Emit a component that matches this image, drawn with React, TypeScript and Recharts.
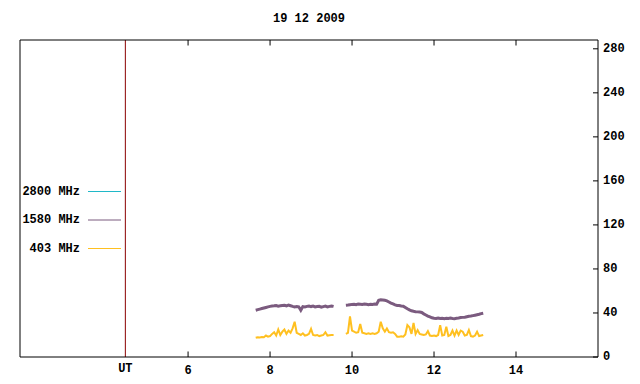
import { LineChart, Line, XAxis, YAxis, ReferenceLine } from "recharts";

const title = "19 12 2009";

// first observing block (UT hours)
const seg1Hours = [
  7.65, 7.7, 7.75, 7.8, 7.85, 7.9, 7.95, 8.0, 8.05, 8.1,
  8.15, 8.2, 8.25, 8.3, 8.35, 8.4, 8.45, 8.5, 8.55, 8.6,
  8.65, 8.7, 8.75, 8.8, 8.85, 8.9, 8.95, 9.0, 9.05, 9.1,
  9.15, 9.2, 9.25, 9.3, 9.35, 9.4, 9.45, 9.5, 9.55,
];
const seg1Mhz1580 = [
  42.5, 43, 43.5, 44, 44.5, 45, 45.5, 46, 46.3, 46.5,
  46.8, 46.2, 46.5, 46.8, 47, 46.5, 47.2, 46.6, 46, 45.5,
  45.8, 45.6, 42.5, 45.8, 45.5, 46, 46.3, 45.8, 46.2, 45.5,
  45.8, 46, 45.2, 45.8, 46.2, 45.5, 46, 46.4, 46,
];
const seg1Mhz403 = [
  17.5, 18, 17.8, 18.2, 18, 19.5, 18.5, 19, 21, 22.5,
  19.5, 25, 20, 23, 25, 21, 24, 22, 26, 32,
  22, 21, 20, 21.5, 19.5, 20, 21, 25.5, 20, 19.5,
  20, 19, 19.5, 20, 22.5, 19.5, 19.8, 20, 20,
];

// second observing block
const seg2Hours = [
  9.85, 9.9, 9.95, 10.0, 10.05, 10.1, 10.15, 10.2, 10.25, 10.3,
  10.35, 10.4, 10.45, 10.5, 10.55, 10.6, 10.65, 10.7, 10.75, 10.8,
  10.85, 10.9, 10.95, 11.0, 11.05, 11.1, 11.15, 11.2, 11.25, 11.3,
  11.35, 11.4, 11.45, 11.5, 11.55, 11.6, 11.65, 11.7, 11.75, 11.8,
  11.85, 11.9, 11.95, 12.0, 12.05, 12.1, 12.15, 12.2, 12.25, 12.3,
  12.35, 12.4, 12.45, 12.5, 12.55, 12.6, 12.65, 12.7, 12.75, 12.8,
  12.85, 12.9, 12.95, 13.0, 13.05, 13.1, 13.15, 13.2,
];
const seg2Mhz1580 = [
  47, 47.2, 47.5, 47.8, 48, 47.6, 48.2, 48, 47.8, 48.2,
  48, 47.6, 48, 47.8, 48.2, 48, 51.5, 52, 51.8, 51.5,
  51, 50, 49, 48.2, 47.4, 46.8, 46.8, 46.4, 46.2, 45,
  43.8, 42.8, 42, 41.5, 41.2, 41, 40.8, 40.4, 39.2, 38.2,
  37.2, 36.4, 35.6, 35.2, 35, 35.4, 35, 35.2, 34.8, 35.2,
  35, 35.4, 35, 34.8, 35.2, 35.4, 35.8, 36, 36.2, 36.6,
  37, 37.2, 37.6, 38, 38.4, 38.8, 39.4, 39.8,
];
const seg2Mhz403 = [
  21, 22, 37, 24, 23, 22, 22.5, 30, 22, 21.5,
  21, 21.5, 21, 21.5, 21, 21.5, 23, 32, 26, 23,
  26, 22.5, 22, 22.5, 21, 18.5, 18.5, 18.8, 18.5, 20.5,
  29, 27, 21, 31, 21, 24.5, 21, 20.5, 20, 20.5,
  23.5, 19.5, 19, 19.5, 19, 20, 29, 19.5, 20, 27.5,
  19, 20, 24, 19.5, 24, 20, 24, 23, 19.5, 20,
  24.5, 19, 18.5, 19.5, 23, 19, 19.5, 20,
];

const gapHour = 9.7;
const utHour = 4.47;
const xTicks = [6, 8, 10, 12, 14];
const yTicks = [0, 40, 80, 120, 160, 200, 240, 280];
const yMax = 288;
const tickLen = 5; // inward x-tick length in y units

const series = [
  { key: "mhz2800", name: "2800 MHz", color: "#20b8c8", width: 1 },
  { key: "mhz1580", name: "1580 MHz", color: "#7b5b7f", width: 3 },
  { key: "mhz403", name: "403 MHz", color: "#ffc020", width: 2 },
];

const data = [
  ...seg1Hours.map((h, i) => ({ hour: h, mhz1580: seg1Mhz1580[i], mhz403: seg1Mhz403[i] })),
  { hour: gapHour, mhz1580: null, mhz403: null },
  ...seg2Hours.map((h, i) => ({ hour: h, mhz1580: seg2Mhz1580[i], mhz403: seg2Mhz403[i] })),
];

const font = "'Liberation Mono', 'DejaVu Sans Mono', monospace";

const BottomTick = (props: any) => {
  const { x, y, payload } = props;
  const isUt = payload.value === utHour;
  return (
    <text x={x} y={y + (isUt ? 12 : 14)} textAnchor="middle" dominantBaseline="central"
      fontFamily={font} fontSize={12} fontWeight="bold" fill="#000">
      {isUt ? "UT" : payload.value}
    </text>
  );
};

const RightTick = (props: any) => {
  const { x, y, payload } = props;
  return (
    <g>
      <line x1={x} y1={y} x2={x - 5} y2={y} stroke="#000" />
      <text x={x + 5} y={y} textAnchor="start" dominantBaseline="central"
        fontFamily={font} fontSize={12} fontWeight="bold" fill="#000">{payload.value}</text>
    </g>
  );
};

export default function App() {
  return (
    <div style={{ position: "absolute", left: 0, top: 0, width: 640, height: 384, background: "#fff" }}>
      <LineChart width={640} height={384} data={data}
        margin={{ top: 39, right: 0, bottom: 0, left: 19 }}>
        <XAxis xAxisId="b" dataKey="hour" type="number" domain={[1.9, 16]} allowDataOverflow
          ticks={[utHour, ...xTicks]} interval={0} height={27} tickSize={0} tickMargin={0}
          tickLine={false} axisLine={{ stroke: "#000" }} tick={<BottomTick />} />
        <XAxis xAxisId="t" orientation="top" dataKey="hour" type="number" domain={[1.9, 16]}
          allowDataOverflow height={1} tick={false} tickLine={false} axisLine={{ stroke: "#000" }} />
        <YAxis yAxisId="r" orientation="right" type="number" domain={[0, yMax]} allowDataOverflow
          ticks={yTicks} interval={0} width={42} tickSize={0} tickMargin={0}
          tickLine={false} axisLine={{ stroke: "#000" }} tick={<RightTick />} />
        <YAxis yAxisId="l" orientation="left" type="number" domain={[0, yMax]} width={1}
          tick={false} tickLine={false} axisLine={{ stroke: "#000" }} />
        {xTicks.map((t) => (
          <ReferenceLine key={`b${t}`} xAxisId="b" yAxisId="r" stroke="#000" ifOverflow="visible"
            segment={[{ x: t, y: 0 }, { x: t, y: tickLen }]} />
        ))}
        {xTicks.map((t) => (
          <ReferenceLine key={`t${t}`} xAxisId="b" yAxisId="r" stroke="#000" ifOverflow="visible"
            segment={[{ x: t, y: yMax }, { x: t, y: yMax - tickLen }]} />
        ))}
        <ReferenceLine xAxisId="b" yAxisId="r" x={utHour} stroke="#8b0000" strokeWidth={1} />
        {series.slice(1).map((s) => (
          <Line key={s.key} xAxisId="b" yAxisId="r" type="linear" dataKey={s.key} name={s.name}
            stroke={s.color} strokeWidth={s.width} dot={false} connectNulls={false}
            isAnimationActive={false} />
        ))}
      </LineChart>
      <svg width={640} height={384} style={{ position: "absolute", left: 0, top: 0, pointerEvents: "none" }}>
        <text x={309} y={19} textAnchor="middle" dominantBaseline="central"
          fontFamily={font} fontSize={12} fontWeight="bold" fill="#000">{title}</text>
        {series.map((s, i) => (
          <g key={s.key}>
            <text x={80} y={191.5 + i * 28.5} textAnchor="end" dominantBaseline="central"
              fontFamily={font} fontSize={12} fontWeight="bold" fill="#000">{s.name}</text>
            <line x1={88} x2={121} y1={191.5 + i * 28.5} y2={191.5 + i * 28.5}
              stroke={s.color} strokeWidth={1} />
          </g>
        ))}
      </svg>
    </div>
  );
}
